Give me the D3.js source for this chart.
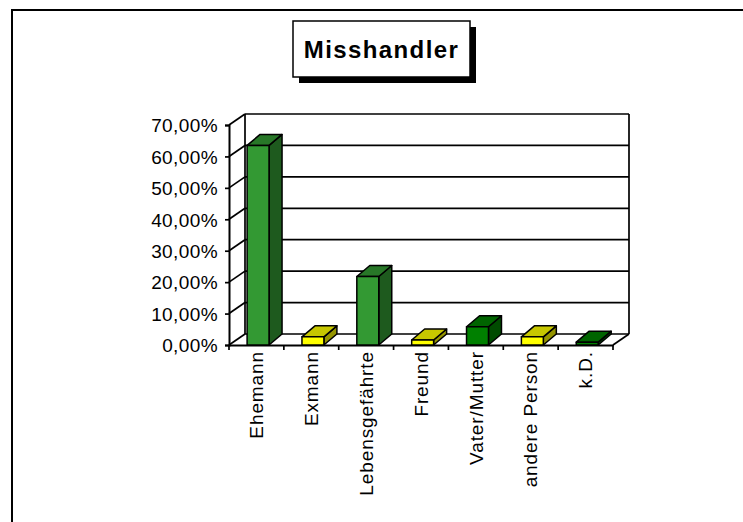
<!DOCTYPE html>
<html>
<head>
<meta charset="utf-8">
<script src="https://cdn.jsdelivr.net/npm/d3@7"></script>
<style>
  body { margin: 0; background: #fff; }
  svg { display: block; font-family: "Liberation Sans", Arial, sans-serif; }
</style>
</head>
<body>
<svg id="chart" width="743" height="522"></svg>
<script>
// chart data
const categories = ["Ehemann", "Exmann", "Lebensgefährte", "Freund", "Vater/Mutter", "andere Person", "k.D."];
const values = [63.5, 2.6, 21.8, 1.6, 5.8, 2.6, 0.9];   // percent
const yTicks = [0, 10, 20, 30, 40, 50, 60, 70];
const title = "Misshandler";

// front colours per bar (top / side are shaded from these)
const palette = ["#339933", "#ffff00", "#339933", "#ffff00", "#008000", "#ffff00", "#008000"];

const svg = d3.select("#chart");

// outer frame, runs off the right and bottom edge
svg.append("path")
    .attr("d", "M12,530 L12,10 L760,10")
    .attr("fill", "none")
    .attr("stroke", "#000")
    .attr("stroke-width", 2);

// plot geometry
const x0 = 229, x1 = 613, yBottom = 345, yTop = 125;
const depth = { dx: 16, dy: -11 };   // wall depth
const barDepth = { dx: 13, dy: -11 };

const x = d3.scaleBand().domain(categories).range([x0, x1]);
const y = d3.scaleLinear().domain([0, 70]).range([yBottom, yTop]);

const de = d3.formatLocale({ decimal: ",", thousands: ".", grouping: [3], currency: ["", "€"] });
const pct = de.format(".2%");

const grid = svg.append("g").attr("fill", "none").attr("stroke", "#000").attr("stroke-width", 1.7);

// back wall gridlines + side wall diagonals
yTicks.forEach(t => {
    grid.append("line")
        .attr("x1", x0 + depth.dx).attr("x2", x1 + depth.dx)
        .attr("y1", y(t) + depth.dy).attr("y2", y(t) + depth.dy);
    grid.append("line")
        .attr("x1", x0).attr("x2", x0 + depth.dx)
        .attr("y1", y(t)).attr("y2", y(t) + depth.dy);
});
// back wall edges
grid.append("line")
    .attr("x1", x0 + depth.dx).attr("x2", x0 + depth.dx)
    .attr("y1", y(0) + depth.dy).attr("y2", y(70) + depth.dy);
grid.append("line")
    .attr("x1", x1 + depth.dx).attr("x2", x1 + depth.dx)
    .attr("y1", y(0) + depth.dy).attr("y2", y(70) + depth.dy);
// floor right edge
grid.append("line")
    .attr("x1", x1).attr("x2", x1 + depth.dx)
    .attr("y1", y(0)).attr("y2", y(0) + depth.dy);

// y axis
const yAxis = svg.append("g")
    .attr("transform", `translate(${x0},0)`)
    .call(d3.axisLeft(y).tickValues(yTicks).tickSize(4).tickPadding(7).tickFormat(d => pct(d / 100)));
yAxis.attr("font-family", "Liberation Sans, Arial, sans-serif").attr("font-size", 19);
yAxis.select(".domain").attr("stroke", "#000").attr("stroke-width", 2);
yAxis.selectAll(".tick line").attr("stroke", "#000").attr("stroke-width", 1.7);
yAxis.selectAll(".tick text")
    .attr("fill", "#000")
    .attr("dy", "0.36em")
    .style("letter-spacing", "0.4px");

// x axis
const xAxis = svg.append("g")
    .attr("transform", `translate(0,${yBottom})`)
    .call(d3.axisBottom(x).tickSize(0).tickFormat(""));
xAxis.select(".domain").attr("stroke", "#000").attr("stroke-width", 2);
xAxis.selectAll(".tick").remove();
// category boundary ticks
const bounds = categories.map(c => x(c)).concat([x1]);
xAxis.selectAll("line.sep")
    .data(bounds)
    .enter()
    .append("line")
    .attr("class", "sep")
    .attr("x1", d => d).attr("x2", d => d)
    .attr("y1", 0).attr("y2", 5)
    .attr("stroke", "#000")
    .attr("stroke-width", 1.7);

// 3D bars
const shade = (c, k) => d3.rgb(c).darker(k).formatHex();
const bw = x.bandwidth() * 0.4;
const bOff = x.bandwidth() * 0.33;

const bars = svg.append("g")
    .selectAll("g.bar")
    .data(categories.map((c, i) => ({ c, v: values[i], col: palette[i] })))
    .enter()
    .append("g")
    .attr("class", "bar")
    .attr("stroke", "#000")
    .attr("stroke-width", 1.5)
    .attr("stroke-linejoin", "round");

bars.append("path")   // side
    .attr("fill", d => shade(d.col, 1.5))
    .attr("d", d => {
        const xr = x(d.c) + bOff + bw, yt = y(d.v), yb = y(0);
        return `M${xr},${yb} L${xr + barDepth.dx},${yb + barDepth.dy} L${xr + barDepth.dx},${yt + barDepth.dy} L${xr},${yt} Z`;
    });
bars.append("path")   // top
    .attr("fill", d => shade(d.col, 0.7))
    .attr("d", d => {
        const xl = x(d.c) + bOff, yt = y(d.v);
        return `M${xl},${yt} L${xl + barDepth.dx},${yt + barDepth.dy} L${xl + bw + barDepth.dx},${yt + barDepth.dy} L${xl + bw},${yt} Z`;
    });
bars.append("rect")   // front
    .attr("fill", d => d.col)
    .attr("x", d => x(d.c) + bOff)
    .attr("y", d => y(d.v))
    .attr("width", bw)
    .attr("height", d => y(0) - y(d.v));

// category labels
svg.append("g")
    .selectAll("text")
    .data(categories)
    .enter()
    .append("text")
    .attr("transform", d => `translate(${x(d) + x.bandwidth() / 2},${yBottom + 6}) rotate(-90)`)
    .attr("dy", "0.35em")
    .attr("text-anchor", "end")
    .style("font-size", "19px")
    .style("letter-spacing", "0.9px")
    .text(d => d);

// title box
const tb = { x: 293, y: 21, w: 177, h: 56 };
svg.append("rect")
    .attr("x", tb.x + 6).attr("y", tb.y + 6)
    .attr("width", tb.w).attr("height", tb.h)
    .attr("fill", "#000");
svg.append("rect")
    .attr("x", tb.x).attr("y", tb.y)
    .attr("width", tb.w).attr("height", tb.h)
    .attr("fill", "#fff")
    .attr("stroke", "#000")
    .attr("stroke-width", 1.5);
svg.append("text")
    .attr("x", tb.x + tb.w / 2)
    .attr("y", tb.y + 37)
    .attr("text-anchor", "middle")
    .style("font-size", "24px")
    .style("font-weight", "bold")
    .style("letter-spacing", "1.4px")
    .text(title);
</script>
</body>
</html>
